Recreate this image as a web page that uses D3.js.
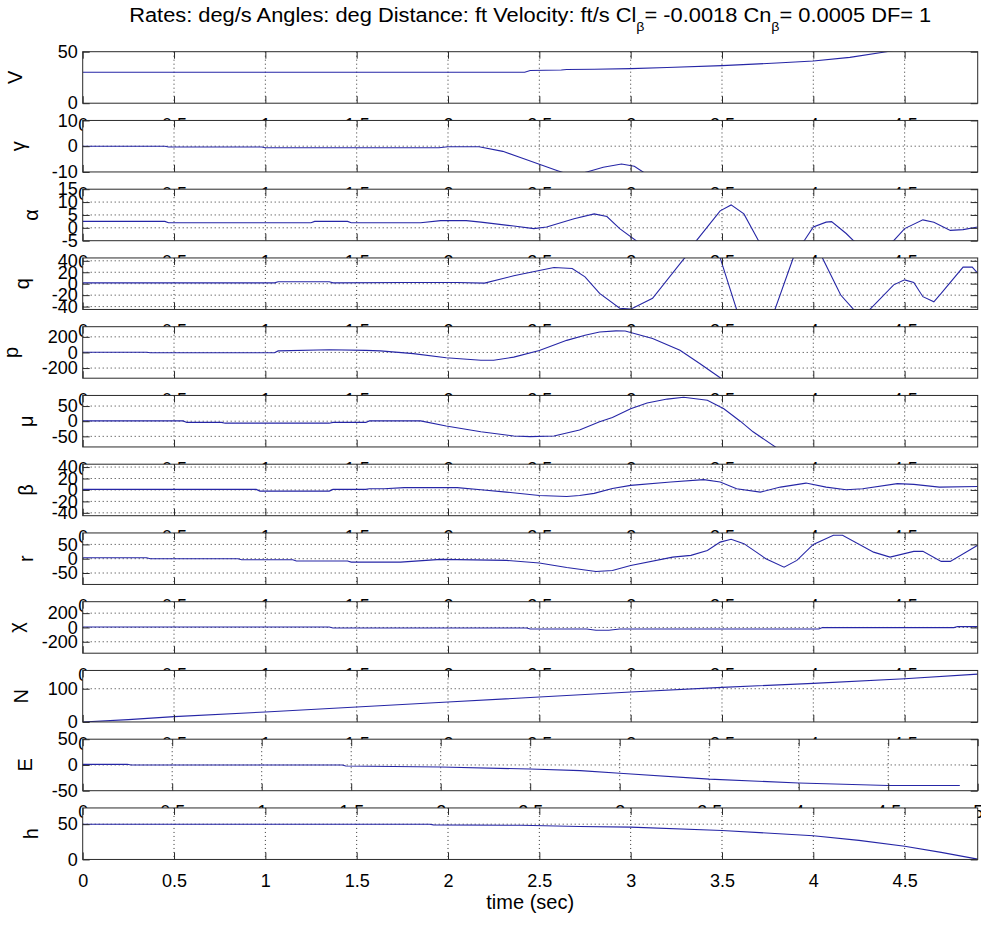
<!DOCTYPE html>
<html>
<head>
<meta charset="utf-8">
<script src="https://cdn.jsdelivr.net/npm/d3@7"></script>
<style>
  body { margin: 0; background: #fff; }
  svg { display: block; }
  text { font-family: "Liberation Sans", Arial, Helvetica, sans-serif; }
</style>
</head>
<body>
<svg id="chart" width="981" height="930"></svg>
<script>
// time ticks (sec)
const xTicks = [0, 0.5, 1, 1.5, 2, 2.5, 3, 3.5, 4, 4.5];
const xTicksE = [0, 0.5, 1, 1.5, 2, 2.5, 3, 3.5, 4, 4.5, 5];

// series as [time, value] pairs
const V = [[0,30],[2.42,30],[2.45,31.8],[2.62,32.2],[2.65,32.7],[2.8,33],[3.0,33.6],[3.2,34.7],[3.5,36.5],[3.8,39],[4.0,41],[4.2,44.5],[4.4,50],[4.6,56],[4.9,65]];
const gamma = [[0,0],[0.45,0],[0.47,-0.3],[0.98,-0.3],[1.0,-0.6],[1.95,-0.6],[2.0,-0.2],[2.17,-0.2],[2.3,-2.0],[2.4,-4.5],[2.5,-7.0],[2.6,-9.5],[2.68,-11.5],[2.76,-10],[2.85,-8.2],[2.95,-6.9],[3.02,-7.8],[3.1,-11.5],[3.2,-17],[3.5,-30],[4.9,-40]];
const alpha = [[0,2.5],[0.45,2.5],[0.47,2.0],[1.25,2.0],[1.27,2.5],[1.45,2.5],[1.47,2.0],[1.85,2.0],[1.96,2.8],[2.1,2.8],[2.18,2.2],[2.36,0.7],[2.47,-0.3],[2.54,0.3],[2.69,3.5],[2.8,5.4],[2.87,4.4],[2.94,-0.3],[3.03,-5],[3.15,-12],[3.25,-12],[3.36,-5],[3.49,6.6],[3.55,8.9],[3.62,5.4],[3.7,-5],[3.82,-10],[3.95,-5],[4.0,0.3],[4.07,2.2],[4.1,2.4],[4.18,-2.2],[4.22,-5],[4.33,-9],[4.44,-5],[4.5,-0.3],[4.6,3.1],[4.66,2.2],[4.75,-1],[4.82,-0.7],[4.9,0.3]];
const q = [[0,1.5],[1.05,1.5],[1.07,3.5],[1.35,3.5],[1.37,1.5],[1.75,2],[2.05,2],[2.2,1],[2.36,13.8],[2.5,23],[2.58,28.4],[2.68,26.7],[2.75,12],[2.83,-17],[2.94,-43],[3.0,-44.5],[3.12,-25.6],[3.29,43],[3.38,70],[3.45,60],[3.49,45],[3.58,-45],[3.68,-75],[3.79,-45],[3.89,45],[3.97,70],[4.05,45],[4.15,-19.8],[4.22,-45],[4.27,-55],[4.31,-45],[4.44,-2],[4.5,6.7],[4.55,2],[4.6,-22.7],[4.66,-31.6],[4.7,-16.8],[4.82,29],[4.87,29],[4.9,18.5]];
const p = [[0,3],[0.35,3],[0.37,-3],[1.05,-3],[1.07,20],[1.35,35],[1.55,27],[1.63,20],[1.81,-15],[1.99,-67],[2.18,-100],[2.25,-100],[2.36,-60],[2.5,25],[2.65,155],[2.75,220],[2.83,262],[2.92,276],[2.97,274],[3.12,178],[3.27,27],[3.38,-144],[3.49,-325],[3.6,-520],[4.9,-900]];
const mu = [[0,1],[0.55,1],[0.57,-4],[0.76,-4],[0.78,-6.5],[1.35,-6.5],[1.37,-4],[1.55,-4],[1.57,1],[1.85,1],[1.99,-16],[2.18,-35],[2.36,-49],[2.45,-51],[2.58,-49],[2.72,-29],[2.83,-2],[2.9,12],[3.0,41],[3.09,60],[3.2,73],[3.29,79],[3.42,69],[3.51,41],[3.6,0],[3.67,-35],[3.79,-84],[3.9,-130],[4.9,-400]];
const beta = [[0,1],[0.95,1],[0.97,-2],[1.35,-2],[1.37,1],[1.55,1],[1.57,2],[1.65,2],[1.76,4],[2.05,4],[2.18,0.4],[2.32,-3.8],[2.5,-9.7],[2.65,-11.5],[2.72,-9.7],[2.8,-6],[2.9,2.5],[3.0,8],[3.22,13.8],[3.4,18],[3.49,13.8],[3.58,2],[3.71,-3.8],[3.82,5],[3.96,12],[4.07,5],[4.18,0.4],[4.27,2],[4.46,11],[4.55,9.7],[4.69,5],[4.9,6]];
const r = [[0,3.5],[0.35,3.5],[0.37,0],[0.85,0],[0.87,-3.5],[1.15,-3.5],[1.17,-8],[1.45,-8],[1.47,-12],[1.74,-12],[1.96,-2.5],[2.32,-6],[2.5,-15],[2.65,-31],[2.81,-44.6],[2.9,-41],[3.0,-23.5],[3.23,5.6],[3.33,11.6],[3.42,29],[3.49,58],[3.55,67.7],[3.62,52.6],[3.74,0],[3.84,-29.5],[3.91,-6],[4.0,50],[4.11,81.8],[4.16,81.8],[4.33,23],[4.42,5.6],[4.55,25.6],[4.6,25.6],[4.7,-9.5],[4.75,-9.5],[4.9,46.7]];
const chi = [[0,7],[1.35,7],[1.37,-7],[2.43,-7],[2.45,-22],[2.76,-22],[2.81,-40],[2.88,-40],[2.94,-22],[4.03,-22],[4.05,-2],[4.77,-2],[4.79,12],[4.9,12]];
const N = [[0,0],[0.25,7],[0.5,16],[1.0,30],[1.5,45],[2.0,60],[2.5,75],[3.0,90],[3.5,104],[4.0,116],[4.5,130],[4.9,144]];
const E = [[0,1.2],[0.25,1.2],[0.27,0],[1.45,0],[1.47,-2],[2.0,-4],[2.5,-8],[2.78,-11],[3.0,-16],[3.5,-27.5],[4.0,-35],[4.5,-40],[4.9,-40]];
const h = [[0,50],[1.9,50],[1.92,49],[2.4,48.5],[2.72,46.7],[3.0,45.8],[3.5,41],[4.0,33.7],[4.25,27],[4.5,18.7],[4.7,10],[4.9,0.5]];

// axis ranges and y ticks for every subplot
const panels = [
  { name: "V", data: V,     yDomain: [0, 50],      yTicks: [0, 50],              labelX: 22 },
  { name: "γ", data: gamma, yDomain: [-10, 10],    yTicks: [-10, 0, 10],         labelX: 25 },
  { name: "α", data: alpha, yDomain: [-5, 15],     yTicks: [-5, 0, 5, 10, 15],   labelX: 38 },
  { name: "q", data: q,     yDomain: [-45, 45],    yTicks: [-40, -20, 0, 20, 40], labelX: 29 },
  { name: "p", data: p,     yDomain: [-330, 330],  yTicks: [-200, 0, 200],       labelX: 18 },
  { name: "μ", data: mu,    yDomain: [-85, 85],    yTicks: [-50, 0, 50],         labelX: 33 },
  { name: "β", data: beta,  yDomain: [-45, 45],    yTicks: [-40, -20, 0, 20, 40], labelX: 33 },
  { name: "r", data: r,     yDomain: [-90, 90],    yTicks: [-50, 0, 50],         labelX: 33 },
  { name: "χ", data: chi,   yDomain: [-360, 360],  yTicks: [-200, 0, 200],       labelX: 23 },
  { name: "N", data: N,     yDomain: [0, 155],     yTicks: [0, 100],             labelX: 28 },
  { name: "E", data: E,     yDomain: [-50, 50],    yTicks: [-50, 0, 50],         labelX: 32, xMax: 5, xt: xTicksE },
  { name: "h", data: h,     yDomain: [0, 73],      yTicks: [0, 50],              labelX: 38 }
];

const svg = d3.select("#chart");
const left = 82.7, width = 895, top0 = 51.7, step = 68.75, ph = 51.5;
const tick = 7, fs = 18;
const lineColor = "#2626a6", axisColor = "#2a2a2a";

// title
const title = svg.append("text")
  .attr("x", left + width / 2).attr("y", 22)
  .attr("text-anchor", "middle")
  .attr("font-size", 20)
  .attr("textLength", 802).attr("lengthAdjust", "spacingAndGlyphs")
  .attr("fill", "#000");
title.append("tspan").text("Rates: deg/s  Angles: deg  Distance: ft  Velocity: ft/s  Cl");
title.append("tspan").attr("dy", 9).attr("font-size", 13).text("β");
title.append("tspan").attr("dy", -9).text("= -0.0018  Cn");
title.append("tspan").attr("dy", 9).attr("font-size", 13).text("β");
title.append("tspan").attr("dy", -9).text("= 0.0005  DF= 1");

panels.forEach((pn, i) => {
  const y0 = top0 + i * step;
  const xMax = pn.xMax || 4.9;
  const xt = pn.xt || xTicks;
  const x = d3.scaleLinear().domain([0, xMax]).range([0, width]);
  const y = d3.scaleLinear().domain(pn.yDomain).range([ph, 0]);
  const g = svg.append("g").attr("transform", `translate(${left},${y0})`);

  // axes background hides the tick labels of the subplot above
  g.append("rect").attr("width", width).attr("height", ph).attr("fill", "#fff");

  // dotted grid
  g.selectAll(".vg").data(xt.filter(t => t > 0 && t < xMax)).enter().append("line")
    .attr("x1", d => x(d)).attr("x2", d => x(d)).attr("y1", 0).attr("y2", ph)
    .attr("stroke", "#333").attr("stroke-width", 1).attr("stroke-dasharray", "1,3");
  g.selectAll(".hg").data(pn.yTicks.filter(v => v > pn.yDomain[0] && v < pn.yDomain[1])).enter().append("line")
    .attr("x1", 0).attr("x2", width).attr("y1", d => y(d)).attr("y2", d => y(d))
    .attr("stroke", "#333").attr("stroke-width", 1).attr("stroke-dasharray", "1,3");

  // data line, clipped to the axes
  const cid = "clip" + i;
  g.append("clipPath").attr("id", cid).append("rect").attr("width", width).attr("height", ph);
  g.append("path").datum(pn.data)
    .attr("clip-path", `url(#${cid})`)
    .attr("fill", "none").attr("stroke", lineColor).attr("stroke-width", 1.1)
    .attr("d", d3.line().x(d => x(d[0])).y(d => y(d[1])));

  // axes with inward ticks
  const fmt = d => String(d);
  const ax = [
    g.append("g").attr("transform", `translate(0,${ph})`)
      .call(d3.axisBottom(x).tickValues(xt).tickSize(-tick).tickPadding(15).tickFormat(fmt)),
    g.append("g")
      .call(d3.axisTop(x).tickValues(xt).tickSize(-tick).tickFormat("")),
    g.append("g")
      .call(d3.axisLeft(y).tickValues(pn.yTicks).tickSize(-tick).tickPadding(5).tickFormat(fmt)),
    g.append("g").attr("transform", `translate(${width},0)`)
      .call(d3.axisRight(y).tickValues(pn.yTicks).tickSize(-tick).tickFormat(""))
  ];
  ax.forEach(a => {
    a.select(".domain").remove();
    a.selectAll("line").attr("stroke", axisColor);
    a.selectAll("text").attr("font-size", fs).attr("fill", "#000")
      .attr("font-family", '"Liberation Sans", Arial, sans-serif');
  });

  // box
  g.append("rect").attr("width", width).attr("height", ph)
    .attr("fill", "none").attr("stroke", axisColor).attr("stroke-width", 1);

  // y label
  svg.append("text")
    .attr("transform", `translate(${pn.labelX},${y0 + ph / 2}) rotate(-90)`)
    .attr("text-anchor", "middle")
    .attr("font-size", 20).attr("fill", "#000")
    .text(pn.name);
});

svg.append("text")
  .attr("x", left + width / 2).attr("y", 909)
  .attr("text-anchor", "middle").attr("font-size", 20).attr("fill", "#000")
  .text("time (sec)");
</script>
</body>
</html>
